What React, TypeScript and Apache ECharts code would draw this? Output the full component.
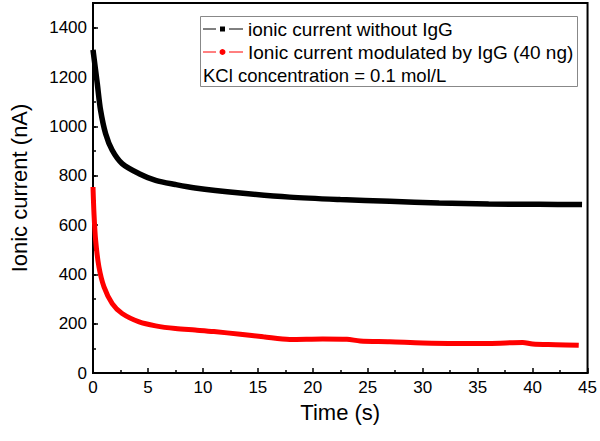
import React, { useEffect, useRef } from "react";
import * as echarts from "echarts";

const timeBlack = [0, 0.39, 0.69, 1.15, 1.75, 2.65, 4.2, 5.7, 7.5, 9.3, 13.4, 17.9, 22.5, 27, 31.5, 36, 40.6, 44.5];
const currentBlack = [1310, 1173, 1065, 970, 903, 849, 808, 781, 764, 750, 730, 713, 703, 696, 689, 685, 684, 683];

const timeRed = [0, 0.09, 0.24, 0.54, 1.0, 1.75, 2.65, 4.2, 5.7, 7.5, 9.3, 11, 13.4, 15.5, 17.9, 20.9, 23.1, 24.3, 27, 30, 33, 36, 39.1, 40, 42.1, 44.2];
const currentRed = [754, 646, 538, 430, 349, 281, 241, 207, 191, 180, 174, 168, 157, 147, 136, 138, 137, 130, 127, 122, 120, 120, 124, 118, 115, 112];

const seriesNames = ["ionic current without IgG", "Ionic current modulated by IgG (40 ng)"];
const noteText = "KCl concentration = 0.1 mol/L";
const xTitle = "Time (s)";
const yTitle = "Ionic current (nA)";

const FONT = '"Liberation Sans", Arial, sans-serif';

export default function App() {
  const ref = useRef<HTMLDivElement>(null);
  useEffect(() => {
    if (!ref.current) return;
    const chart = echarts.init(ref.current, undefined, { renderer: "svg" });
    const black = timeBlack.map((t, i) => [t, currentBlack[i]]);
    const red = timeRed.map((t, i) => [t, currentRed[i]]);
    const tickStyle = { color: "#000", width: 1.5 };
    chart.setOption({
      animation: false,
      backgroundColor: "#fff",
      grid: {
        left: 92,
        top: 3,
        right: 11,
        bottom: 68,
        show: true,
        borderColor: "#000",
        borderWidth: 2,
      },
      xAxis: [
        {
          type: "value",
          min: 0,
          max: 45,
          interval: 5,
          name: xTitle,
          nameLocation: "middle",
          nameGap: 28,
          nameTextStyle: { fontFamily: FONT, fontSize: 22, color: "#000" },
          axisLine: { show: true, lineStyle: { color: "#000", width: 2 } },
          axisTick: { show: true, inside: true, length: 5, lineStyle: tickStyle },
          minorTick: { show: true, splitNumber: 2, length: 3, lineStyle: tickStyle },
          splitLine: { show: false },
          minorSplitLine: { show: false },
          axisLabel: { fontFamily: FONT, fontSize: 17, color: "#000", margin: 6, formatter: (v: number) => String(v) },
        },
      ],
      yAxis: [
        {
          type: "value",
          min: 0,
          max: 1500,
          interval: 200,
          name: yTitle,
          nameLocation: "middle",
          nameGap: 63,
          nameTextStyle: { fontFamily: FONT, fontSize: 22, color: "#000" },
          axisLine: { show: true, lineStyle: { color: "#000", width: 2 } },
          axisTick: { show: true, inside: true, length: 5, lineStyle: tickStyle },
          splitLine: { show: false },
          axisLabel: {
            fontFamily: FONT,
            fontSize: 17,
            color: "#000",
            margin: 6,
            showMaxLabel: false,
            formatter: (v: number) => String(v),
          },
        },
        {
          type: "value",
          min: 0,
          max: 1500,
          interval: 100,
          position: "left",
          axisLine: { show: false },
          axisTick: { show: true, inside: true, length: 3, lineStyle: tickStyle },
          splitLine: { show: false },
          axisLabel: { show: false },
        },
      ],
      series: [
        {
          name: seriesNames[0],
          type: "line",
          data: black,
          showSymbol: false,
          symbol: "none",
          smooth: 0.3,
          lineStyle: { color: "#000", width: 5.5 },
          z: 3,
        },
        {
          name: seriesNames[1],
          type: "line",
          data: red,
          showSymbol: false,
          symbol: "none",
          smooth: 0.3,
          lineStyle: { color: "#ff0000", width: 5 },
          z: 3,
        },
      ],
      graphic: [
        {
          type: "group",
          z: 100,
          children: [
            {
              type: "rect",
              shape: { x: 200.5, y: 16.5, width: 377, height: 70 },
              style: { fill: "#fff", stroke: "#888", lineWidth: 1 },
            },
            { type: "line", shape: { x1: 203, y1: 29, x2: 216, y2: 29 }, style: { stroke: "#000", lineWidth: 1 } },
            { type: "line", shape: { x1: 229, y1: 29, x2: 243, y2: 29 }, style: { stroke: "#000", lineWidth: 1 } },
            { type: "rect", shape: { x: 220, y: 26.5, width: 5, height: 5 }, style: { fill: "#000" } },
            {
              type: "text",
              x: 248,
              y: 29,
              style: { text: seriesNames[0], font: `19px ${FONT}`, fill: "#000", verticalAlign: "middle" },
            },
            { type: "line", shape: { x1: 203, y1: 52, x2: 216, y2: 52 }, style: { stroke: "#ff0000", lineWidth: 1 } },
            { type: "line", shape: { x1: 229, y1: 52, x2: 243, y2: 52 }, style: { stroke: "#ff0000", lineWidth: 1 } },
            { type: "circle", shape: { cx: 222.5, cy: 52, r: 3 }, style: { fill: "#ff0000" } },
            {
              type: "text",
              x: 248,
              y: 52,
              style: { text: seriesNames[1], font: `19px ${FONT}`, fill: "#000", verticalAlign: "middle" },
            },
            {
              type: "text",
              x: 203,
              y: 75,
              style: { text: noteText, font: `18.5px ${FONT}`, fill: "#000", verticalAlign: "middle" },
            },
          ],
        },
      ],
    });
    return () => chart.dispose();
  }, []);
  return (
    <div
      ref={ref}
      style={{ position: "absolute", left: 0, top: 0, width: 600, height: 441 }}
    />
  );
}
